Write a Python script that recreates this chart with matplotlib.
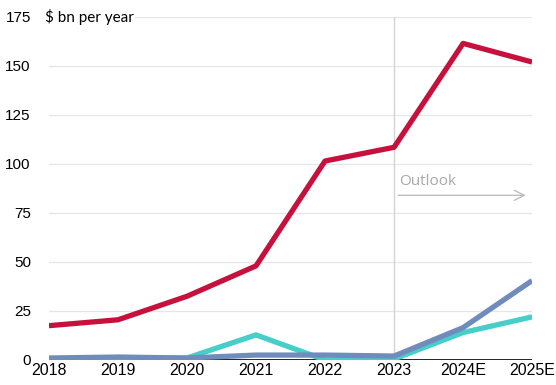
import matplotlib
matplotlib.use("Agg")
import matplotlib.pyplot as plt

years = ["2018", "2019", "2020", "2021", "2022", "2023", "2024E", "2025E"]
red_vals = [17.5, 20.5, 32.5, 48, 101.5, 108.5, 161.5, 152]
teal_vals = [0.5, 1, 1, 12.8, 0, 0.5, 14, 22]
blue_vals = [1, 1.5, 1, 2.5, 2.5, 2, 16.5, 40.5]
yticks = [0, 25, 50, 75, 100, 125, 150, 175]

fig = plt.figure(figsize=(5.56, 3.85), dpi=100)
ax = fig.add_axes([0.088, 0.065, 0.869, 0.891])

x = list(range(len(years)))
for v in yticks[1:]:
    ax.axhline(v, color="#e6e6e6", lw=0.9, zorder=0)
ax.axhline(0, color="black", lw=1.2, zorder=1)

ax.plot(x, teal_vals, color="#45cfc8", lw=3.8, solid_capstyle="butt", zorder=3)
ax.plot(x, blue_vals, color="#6f8cbd", lw=3.8, solid_capstyle="butt", zorder=4)
ax.plot(x, red_vals, color="#c8103c", lw=3.8, solid_capstyle="butt", zorder=5)

# forecast divider
ax.axvline(5, color="#d4d4d4", lw=1.0, zorder=2)
ax.annotate("", xy=(6.95, 84), xytext=(5.02, 84),
            arrowprops=dict(arrowstyle="->", color="#bdbdbd", lw=1.0,
                            mutation_scale=18))
ax.text(5.08, 87, "Outlook", color="#a8a8a8", fontsize=11,
        family="Open Sans", ha="left", va="bottom")

ax.text(-0.06, 175, "$ bn per year", fontsize=11, family="Lato",
        ha="left", va="center", zorder=6,
        bbox=dict(facecolor="white", edgecolor="none", pad=1))

ax.set_xlim(0, 7)
ax.set_ylim(0, 175)
ax.set_xticks(x)
ax.set_xticklabels(years)
ax.set_yticks(yticks)
ax.tick_params(length=0)
ax.tick_params(axis="x", labelsize=11.5, pad=2)
ax.tick_params(axis="y", labelsize=11, pad=13)
for lbl in ax.get_xticklabels() + ax.get_yticklabels():
    lbl.set_family("Liberation Sans")
for s in ax.spines.values():
    s.set_visible(False)

fig.savefig("out.png", dpi=100, facecolor="white")
